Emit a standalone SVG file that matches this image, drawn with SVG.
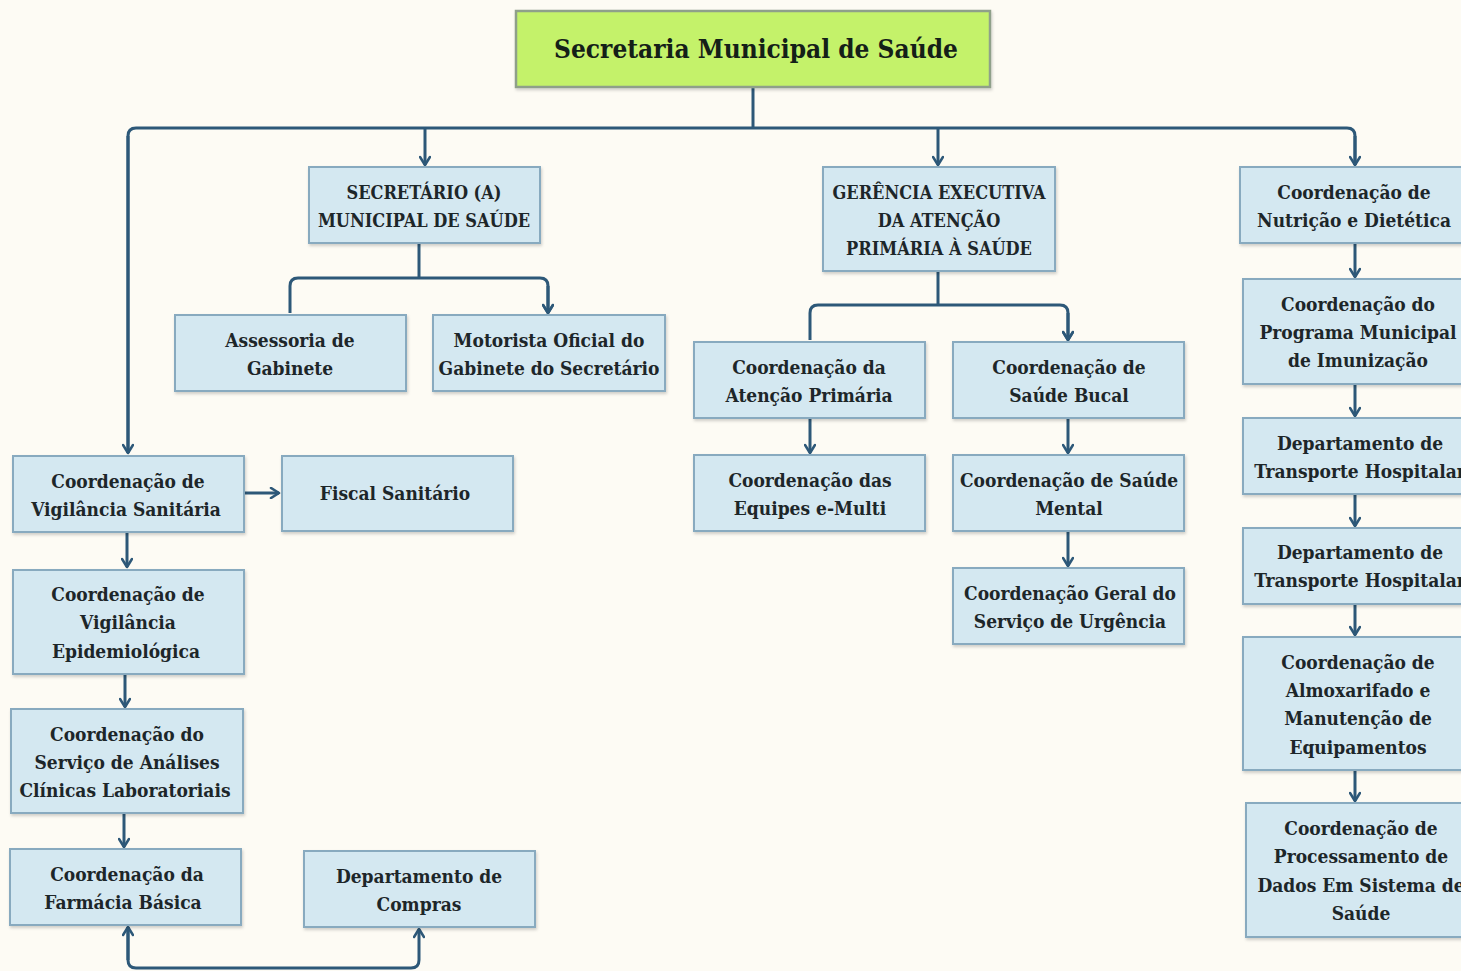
<svg xmlns="http://www.w3.org/2000/svg" width="1461" height="971" viewBox="0 0 1461 971">
<defs>
<marker id="ah" viewBox="0 0 12 12" refX="10" refY="6" markerWidth="12" markerHeight="12" markerUnits="userSpaceOnUse" orient="auto">
<path d="M2,1 L10,6 L2,11" fill="none" stroke="#2d5878" stroke-width="2.6" stroke-linecap="round" stroke-linejoin="round"/>
</marker>
<filter id="sh" x="-5%" y="-5%" width="115%" height="120%">
<feDropShadow dx="1" dy="2" stdDeviation="1.5" flood-color="#000" flood-opacity="0.18"/>
</filter>
</defs>
<style>
.box{fill:#d4e8f1;stroke:#88aabf;stroke-width:2;filter:url(#sh)}
.top{fill:#c4f26a;stroke:#8fa08a;stroke-width:2.5;filter:url(#sh)}
text{font-family:"DejaVu Serif Condensed","DejaVu Serif","Liberation Serif",serif;fill:#1d2629;text-anchor:middle;font-size:19px;font-weight:bold}
.cap{font-size:18px}
.title{font-size:26px;fill:#142018}
.c{fill:none;stroke:#2d5878;stroke-width:3;stroke-linejoin:round}
.a{marker-end:url(#ah)}
</style>
<rect width="1461" height="971" fill="#fdfbf4"/>
<g id="connectors">
<path class="c" d="M753,87 V128"/>
<path class="c" d="M128,453 V136 Q128,128 136,128 H1347 Q1355,128 1355,136 V165"/>
<path class="c a" d="M128,136 V453"/>
<path class="c a" d="M1355,136 V165"/>
<path class="c a" d="M425,128 V165"/>
<path class="c a" d="M938,128 V165"/>
<path class="c" d="M419,243 V278"/>
<path class="c a" d="M290,313 V286 Q290,278 298,278 H540 Q548,278 548,286 V313"/>
<path class="c a" d="M548,286 V313"/>
<path class="c" d="M938,271 V305"/>
<path class="c a" d="M810,340 V313 Q810,305 818,305 H1060 Q1068,305 1068,313 V340"/>
<path class="c a" d="M1068,313 V340"/>
<path class="c a" d="M810,418 V453"/>
<path class="c a" d="M1068,418 V453"/>
<path class="c a" d="M1068,531 V566"/>
<path class="c a" d="M244,493 H279"/>
<path class="c a" d="M127,532 V567"/>
<path class="c a" d="M125,674 V707"/>
<path class="c a" d="M124,813 V847"/>
<path class="c a" d="M1355,243 V277"/>
<path class="c a" d="M1355,384 V416"/>
<path class="c a" d="M1355,494 V526"/>
<path class="c a" d="M1355,604 V635"/>
<path class="c a" d="M1355,770 V801"/>
<path class="c a" d="M128,927 V960 Q128,968 136,968 H411 Q419,968 419,960 V929"/>
<path class="c a" d="M128,960 V927"/>
</g>
<g id="n-top"><rect class="top" x="516" y="11" width="474" height="76"/><text class="title" x="756" y="58">Secretaria Municipal de Saúde</text></g>
<g id="n-secretario"><rect class="box" x="309" y="167" width="231" height="76"/><text class="cap" x="424" y="199">SECRETÁRIO (A)</text><text class="cap" x="424" y="227">MUNICIPAL DE SAÚDE</text></g>
<g id="n-assessoria"><rect class="box" x="175" y="315" width="231" height="76"/><text x="290" y="347">Assessoria de</text><text x="290" y="375">Gabinete</text></g>
<g id="n-motorista"><rect class="box" x="433" y="315" width="232" height="76"/><text x="549" y="347">Motorista Oficial do</text><text x="549" y="375">Gabinete do Secretário</text></g>
<g id="n-gerencia"><rect class="box" x="823" y="167" width="232" height="104"/><text class="cap" x="939" y="199">GERÊNCIA EXECUTIVA</text><text class="cap" x="939" y="227">DA ATENÇÃO</text><text class="cap" x="939" y="255">PRIMÁRIA À SAÚDE</text></g>
<g id="n-atencao"><rect class="box" x="694" y="342" width="231" height="76"/><text x="809" y="374">Coordenação da</text><text x="809" y="402">Atenção Primária</text></g>
<g id="n-bucal"><rect class="box" x="953" y="342" width="231" height="76"/><text x="1069" y="374">Coordenação de</text><text x="1069" y="402">Saúde Bucal</text></g>
<g id="n-emulti"><rect class="box" x="694" y="455" width="231" height="76"/><text x="810" y="487">Coordenação das</text><text x="810" y="515">Equipes e-Multi</text></g>
<g id="n-mental"><rect class="box" x="953" y="455" width="231" height="76"/><text x="1069" y="487">Coordenação de Saúde</text><text x="1069" y="515">Mental</text></g>
<g id="n-urgencia"><rect class="box" x="953" y="568" width="231" height="76"/><text x="1070" y="600">Coordenação Geral do</text><text x="1070" y="628">Serviço de Urgência</text></g>
<g id="n-nutricao"><rect class="box" x="1240" y="167" width="231" height="76"/><text x="1354" y="199">Coordenação de</text><text x="1354" y="227">Nutrição e Dietética</text></g>
<g id="n-imunizacao"><rect class="box" x="1243" y="279" width="231" height="105"/><text x="1358" y="311">Coordenação do</text><text x="1358" y="339">Programa Municipal</text><text x="1358" y="367">de Imunização</text></g>
<g id="n-transporte1"><rect class="box" x="1243" y="418" width="231" height="76"/><text x="1360" y="450">Departamento de</text><text x="1360" y="478">Transporte Hospitalar</text></g>
<g id="n-transporte2"><rect class="box" x="1243" y="528" width="231" height="76"/><text x="1360" y="559">Departamento de</text><text x="1360" y="587">Transporte Hospitalar</text></g>
<g id="n-almox"><rect class="box" x="1243" y="637" width="231" height="133"/><text x="1358" y="669">Coordenação de</text><text x="1358" y="697">Almoxarifado e</text><text x="1358" y="725">Manutenção de</text><text x="1358" y="754">Equipamentos</text></g>
<g id="n-processamento"><rect class="box" x="1246" y="803" width="231" height="134"/><text x="1361" y="835">Coordenação de</text><text x="1361" y="863">Processamento de</text><text x="1361" y="892">Dados Em Sistema de</text><text x="1361" y="920">Saúde</text></g>
<g id="n-vigsan"><rect class="box" x="13" y="456" width="231" height="76"/><text x="128" y="488">Coordenação de</text><text x="126" y="516">Vigilância Sanitária</text></g>
<g id="n-fiscal"><rect class="box" x="282" y="456" width="231" height="75"/><text x="395" y="500">Fiscal Sanitário</text></g>
<g id="n-epidem"><rect class="box" x="13" y="570" width="231" height="104"/><text x="128" y="601">Coordenação de</text><text x="128" y="629">Vigilância</text><text x="126" y="658">Epidemiológica</text></g>
<g id="n-analises"><rect class="box" x="11" y="709" width="232" height="104"/><text x="127" y="741">Coordenação do</text><text x="127" y="769">Serviço de Análises</text><text x="125" y="797">Clínicas Laboratoriais</text></g>
<g id="n-farmacia"><rect class="box" x="10" y="849" width="231" height="76"/><text x="127" y="881">Coordenação da</text><text x="123" y="909">Farmácia Básica</text></g>
<g id="n-compras"><rect class="box" x="304" y="851" width="231" height="76"/><text x="419" y="883">Departamento de</text><text x="419" y="911">Compras</text></g>
</svg>
